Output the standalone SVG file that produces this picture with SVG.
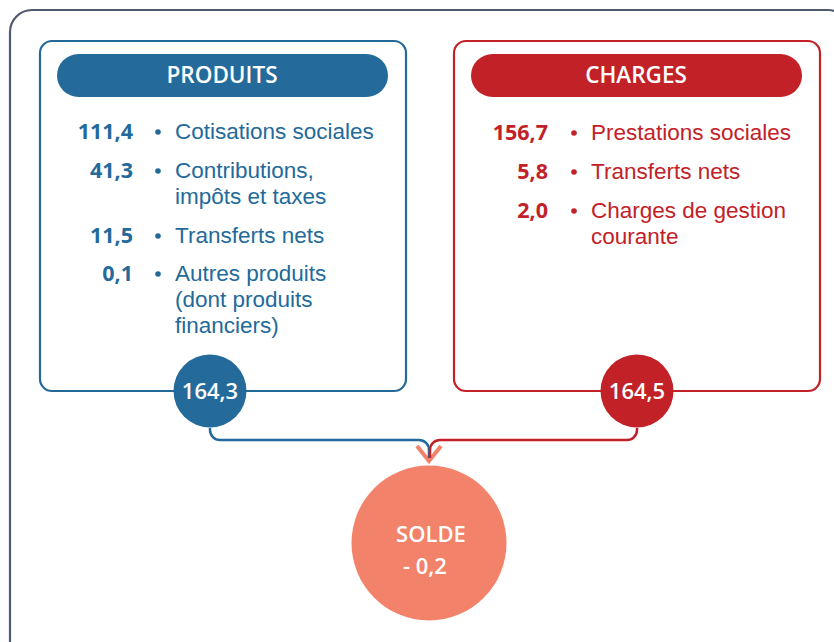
<svg xmlns="http://www.w3.org/2000/svg" width="834" height="642" viewBox="0 0 834 642">
<style>
text{font-family:"Open Sans","Liberation Sans",sans-serif}
.bl{fill:#236a9b}
.rd{fill:#c22127}
.num{font-weight:700;font-size:21.5px;text-anchor:end}
.lbl{font-family:"Liberation Sans",Arial,sans-serif;font-size:22.5px}
.hdr{font-weight:600;font-size:22.5px;fill:#fff;text-anchor:middle}
.val{font-weight:600;font-size:22px;fill:#fff;text-anchor:middle}
.conn{fill:none;stroke-width:2.5}
</style>
<rect x="10" y="10" width="840" height="660" rx="22" fill="#fff" stroke="#4f5a6d" stroke-width="2.2"/>
<g id="connectors">
<polyline points="417,446 429,461 441,446" fill="none" stroke="#f3826a" stroke-width="4"/>
<path class="conn" stroke="#236a9b" d="M210,428 V430 A10,10 0 0 0 220,440 H419 A10,10 0 0 1 429,450 V458"/>
<path class="conn" stroke="#c22127" d="M637,428 V430 A10,10 0 0 1 627,440 H440 A10,10 0 0 0 430,450 V458"/>
</g>
<g id="produits">
<rect x="40" y="41" width="366" height="350" rx="12" fill="none" stroke="#236a9b" stroke-width="2.2"/>
<rect x="57" y="54" width="331" height="43" rx="21.5" fill="#246b9c"/>
<text class="hdr" x="222" y="83">PRODUITS</text>
<g class="bl">
<text class="num" x="133" y="139">111,4</text><circle cx="158" cy="132" r="2.8"/><text class="lbl" x="175" y="139">Cotisations sociales</text>
<text class="num" x="133" y="178">41,3</text><circle cx="158" cy="171" r="2.8"/><text class="lbl" x="175" y="178">Contributions,<tspan x="175" dy="26">impôts et taxes</tspan></text>
<text class="num" x="133" y="243">11,5</text><circle cx="158" cy="236" r="2.8"/><text class="lbl" x="175" y="243">Transferts nets</text>
<text class="num" x="133" y="281">0,1</text><circle cx="158" cy="274" r="2.8"/><text class="lbl" x="175" y="281">Autres produits<tspan x="175" dy="26">(dont produits</tspan><tspan x="175" dy="26">financiers)</tspan></text>
</g>
</g>
<g id="charges">
<rect x="454" y="41" width="366" height="350" rx="12" fill="none" stroke="#c22127" stroke-width="2.2"/>
<rect x="471" y="54" width="331" height="43" rx="21.5" fill="#c22127"/>
<text class="hdr" x="636" y="83">CHARGES</text>
<g class="rd">
<text class="num" x="548" y="140">156,7</text><circle cx="574" cy="133" r="2.8"/><text class="lbl" x="591" y="140">Prestations sociales</text>
<text class="num" x="548" y="179">5,8</text><circle cx="574" cy="172" r="2.8"/><text class="lbl" x="591" y="179">Transferts nets</text>
<text class="num" x="548" y="218">2,0</text><circle cx="574" cy="211" r="2.8"/><text class="lbl" x="591" y="218">Charges de gestion<tspan x="591" dy="26">courante</tspan></text>
</g>
</g>
<g id="total-produits">
<circle cx="210" cy="391" r="36.5" fill="#246b9c"/>
<text class="val" x="210" y="399">164,3</text>
</g>
<g id="total-charges">
<circle cx="637" cy="391" r="36.5" fill="#c22127"/>
<text class="val" x="637" y="399">164,5</text>
</g>
<g id="solde">
<circle cx="429" cy="543" r="77.5" fill="#f3826a"/>
<text class="val" x="431" y="542">SOLDE</text>
<text class="val" x="403" y="574" style="text-anchor:start">- 0,2</text>
</g>
</svg>
